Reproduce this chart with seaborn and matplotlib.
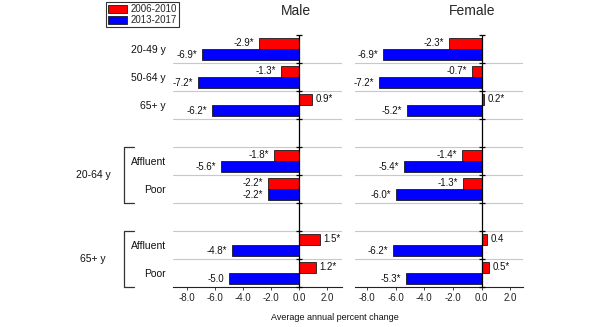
import numpy as np
import pandas as pd
import matplotlib
matplotlib.use("Agg")
import matplotlib.pyplot as plt
from matplotlib.patches import Patch
import matplotlib.transforms as mtransforms
import seaborn as sns

# ---- data ----
categories = ["20-49 y", "50-64 y", "65+ y", "gap1",
              "20-64 Affluent", "20-64 Poor", "gap2",
              "65+ Affluent", "65+ Poor"]
row_labels = ["20-49 y", "50-64 y", "65+ y", "", "Affluent", "Poor", "", "Affluent", "Poor"]
data_cats = ["20-49 y", "50-64 y", "65+ y", "20-64 Affluent", "20-64 Poor",
             "65+ Affluent", "65+ Poor"]
periods = ["2006-2010", "2013-2017"]

male_early = [-2.9, -1.3, 0.9, -1.8, -2.2, 1.5, 1.2]
male_late = [-6.9, -7.2, -6.2, -5.6, -2.2, -4.8, -5.0]
male_early_lbl = ["-2.9*", "-1.3*", "0.9*", "-1.8*", "-2.2*", "1.5*", "1.2*"]
male_late_lbl = ["-6.9*", "-7.2*", "-6.2*", "-5.6*", "-2.2*", "-4.8*", "-5.0"]

female_early = [-2.3, -0.7, 0.2, -1.4, -1.3, 0.4, 0.5]
female_late = [-6.9, -7.2, -5.2, -5.4, -6.0, -6.2, -5.3]
female_early_lbl = ["-2.3*", "-0.7*", "0.2*", "-1.4*", "-1.3*", "0.4", "0.5*"]
female_late_lbl = ["-6.9*", "-7.2*", "-5.2*", "-5.4*", "-6.0*", "-6.2*", "-5.3*"]

xticks = [-8, -6, -4, -2, 0, 2]
xtick_labels = ["-8.0", "-6.0", "-4.0", "-2.0", "0.0", "2.0"]

colors = ["#ff0000", "#0000ff"]

sns.set_style("white")
plt.rcParams["font.family"] = ["Liberation Sans", "DejaVu Sans"]

W, H = 598, 327
fig = plt.figure(figsize=(W / 100, H / 100), dpi=100)

def fx(px):
    return px / W

def fy(py):
    return 1 - py / H

top_px, bot_px = 35, 287
ax_m = fig.add_axes([fx(173), fy(bot_px), fx(342) - fx(173), fy(top_px) - fy(bot_px)])
ax_f = fig.add_axes([fx(355), fy(bot_px), fx(523) - fx(355), fy(top_px) - fy(bot_px)])


def make_df(early, late):
    rows = []
    for c, e, l in zip(data_cats, early, late):
        rows.append({"cat": c, "period": periods[0], "value": e})
        rows.append({"cat": c, "period": periods[1], "value": l})
    return pd.DataFrame(rows)


def draw(ax, early, late, elbl, llbl, xlim):
    df = make_df(early, late)
    sns.barplot(data=df, y="cat", x="value", hue="period", order=categories,
                hue_order=periods, palette=colors, orient="h", ax=ax,
                edgecolor="#1a1a1a", linewidth=0.6, width=0.82, saturation=1,
                legend=False, errorbar=None)
    ax.set_xlim(*xlim)
    ax.set_ylim(8.5, -0.5)
    # gridlines between rows
    for b in np.arange(0.5, 8.0, 1.0):
        ax.axhline(b, color="#c8c8c8", lw=0.8, zorder=0)
    # zero line with ticks
    ax.axvline(0, color="black", lw=0.9, zorder=3)
    bounds = np.arange(-0.5, 9.0, 1.0)
    ax.plot(np.zeros(len(bounds)), bounds, ls="none", marker="_", ms=5,
            mew=0.9, color="black", clip_on=False, zorder=4)
    # value labels
    pos = {c: categories.index(c) for c in data_cats}
    for c, e, l, el, ll in zip(data_cats, early, late, elbl, llbl):
        for v, lab, dy in ((e, el, -0.205), (l, ll, 0.205)):
            y = pos[c] + dy
            if v < 0:
                ax.annotate(lab, (v, y), xytext=(-3.5, 0), textcoords="offset points",
                            ha="right", va="center", fontsize=7, color="#111")
            else:
                ax.annotate(lab, (v, y), xytext=(2.5, 0), textcoords="offset points",
                            ha="left", va="center", fontsize=7, color="#111")
    for s in ["top", "right", "left"]:
        ax.spines[s].set_visible(False)
    ax.spines["bottom"].set_color("#222")
    ax.spines["bottom"].set_linewidth(0.8)
    ax.set_xticks(xticks)
    ax.set_xticklabels(xtick_labels, fontsize=7, color="#222")
    ax.tick_params(axis="x", length=2, width=0.6, pad=2, color="#222", bottom=True)
    ax.set_xlabel("")
    ax.set_ylabel("")


draw(ax_m, male_early, male_late, male_early_lbl, male_late_lbl, (-9.0, 3.05))
draw(ax_f, female_early, female_late, female_early_lbl, female_late_lbl, (-8.85, 2.9))

ax_m.set_yticks(range(len(categories)))
ax_m.set_yticklabels(row_labels, fontsize=7.5, color="#111")
ax_m.tick_params(axis="y", length=0, pad=5)
ax_f.set_yticks([])

# group brackets and labels
tr = mtransforms.blended_transform_factory(ax_m.transAxes, ax_m.transData)
axw = 342 - 173
bx = (124 - 173) / axw
bt = (134 - 173) / axw
for y0, y1, lab in ((3.5, 5.5, "20-64 y"), (6.5, 8.5, "65+ y")):
    ax_m.plot([bt, bx, bx, bt], [y0, y0, y1, y1], color="#333", lw=0.9,
              transform=tr, clip_on=False)
    ax_m.text((93 - 173) / axw, (y0 + y1) / 2, lab, transform=tr, ha="center",
              va="center", fontsize=7.5, color="#111")

fig.text(fx(296), fy(11), "Male", ha="center", va="center", fontsize=10)
fig.text(fx(472), fy(11), "Female", ha="center", va="center", fontsize=10)
fig.text(fx(335), fy(318), "Average annual percent change", ha="center",
         va="center", fontsize=6.5, color="#111")

handles = [Patch(facecolor=colors[0], edgecolor="#1a1a1a", lw=0.6),
           Patch(facecolor=colors[1], edgecolor="#1a1a1a", lw=0.6)]
leg = fig.legend(handles, periods, loc="upper left",
                 bbox_to_anchor=(fx(106), fy(2)), fontsize=7, frameon=True,
                 fancybox=False, handlelength=2.0, handleheight=0.9,
                 labelspacing=0.15, borderpad=0.2, handletextpad=0.3,
                 borderaxespad=0)
leg.get_frame().set_edgecolor("black")
leg.get_frame().set_linewidth(0.8)

fig.savefig("out.png", dpi=100)
